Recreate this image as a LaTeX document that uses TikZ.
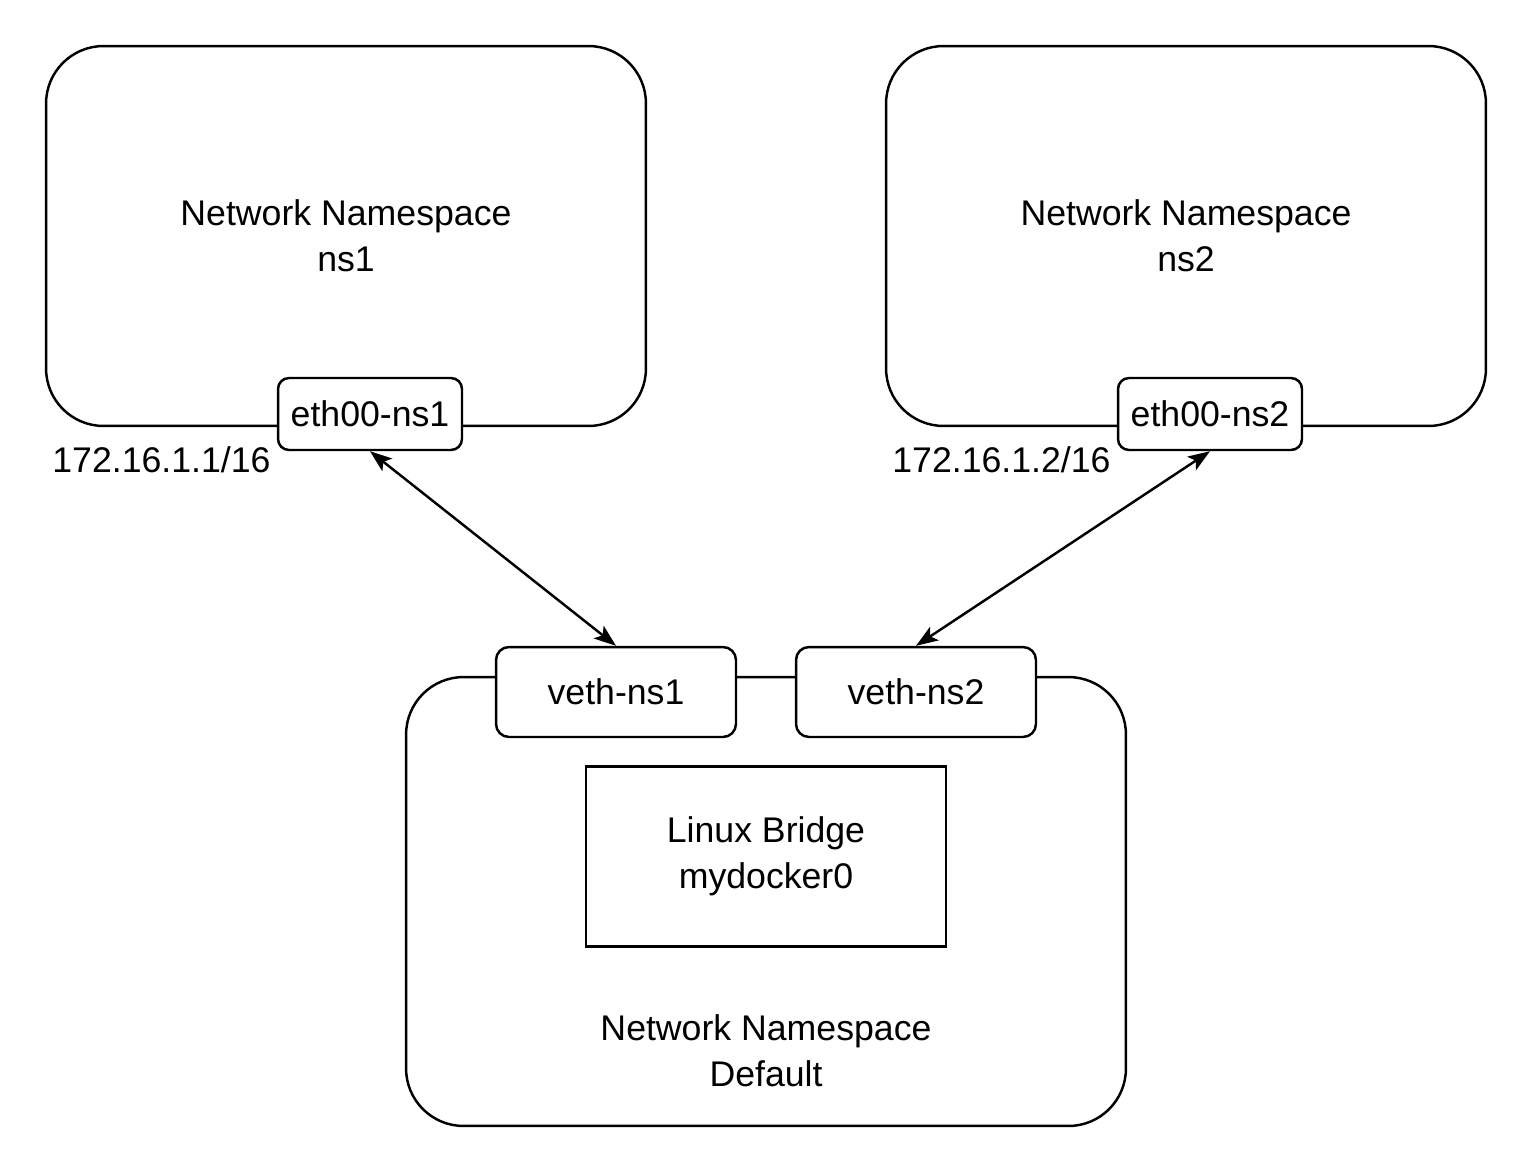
\documentclass[tikz,border=0pt]{standalone}
\usepackage{fontspec}
\setmainfont{Liberation Sans}
\usetikzlibrary{arrows.meta}
\tikzstyle{namespace} = [rectangle, rounded corners=1.15cm, minimum width=12cm, minimum height=7.6cm, text centered, align=center, draw=black, line width=1.4pt]
\tikzstyle{iface} = [rectangle, rounded corners=0.22cm, minimum width=3.68cm, minimum height=1.44cm, inner sep=0pt, text centered, draw=black, fill=white, line width=1.4pt]
\tikzstyle{veth} = [iface, rounded corners=0.26cm, minimum width=4.8cm, minimum height=1.8cm]
\tikzstyle{bridge} = [rectangle, minimum width=7.2cm, minimum height=3.6cm, text centered, align=center, draw=black, line width=1.4pt]
\tikzstyle{label} = [inner sep=0pt, align=center]
\tikzstyle{arrow} = [line width=1.4pt, {Stealth[length=0.44cm, width=0.32cm, inset=0.1cm]}-{Stealth[length=0.44cm, width=0.32cm, inset=0.1cm]}]

\begin{document}
\begin{tikzpicture}[x=0.02cm, y=-0.02cm, font=\fontsize{20.3}{26.2}\selectfont]
	\useasboundingbox (0,0) rectangle (1533,1173);

	\node (ns1) [namespace] at (346,236) {Network Namespace\\ns1};
	\node (ns2) [namespace] at (1186,236) {Network Namespace\\ns2};
	\node (default) [namespace, minimum width=14.4cm, minimum height=8.98cm] at (766,901.5) {};
	\node (defaulttext) [label] at (766,1051) {Network Namespace\\Default};
	\node (bridge) [bridge] at (766,856.5) {Linux Bridge\\mydocker0};

	\node (eth1) [iface] at (370,414) {eth00-ns1};
	\node (eth2) [iface] at (1210,414) {eth00-ns2};
	\node (veth1) [veth] at (616,692) {veth-ns1};
	\node (veth2) [veth] at (916,692) {veth-ns2};

	\node (ip1) [label, anchor=west] at (52,460) {172.16.1.1/16};
	\node (ip2) [label, anchor=west] at (892,460) {172.16.1.2/16};

	\draw [arrow] (eth1.south) -- (veth1.north);
	\draw [arrow] (eth2.south) -- (veth2.north);
\end{tikzpicture}
\end{document}
